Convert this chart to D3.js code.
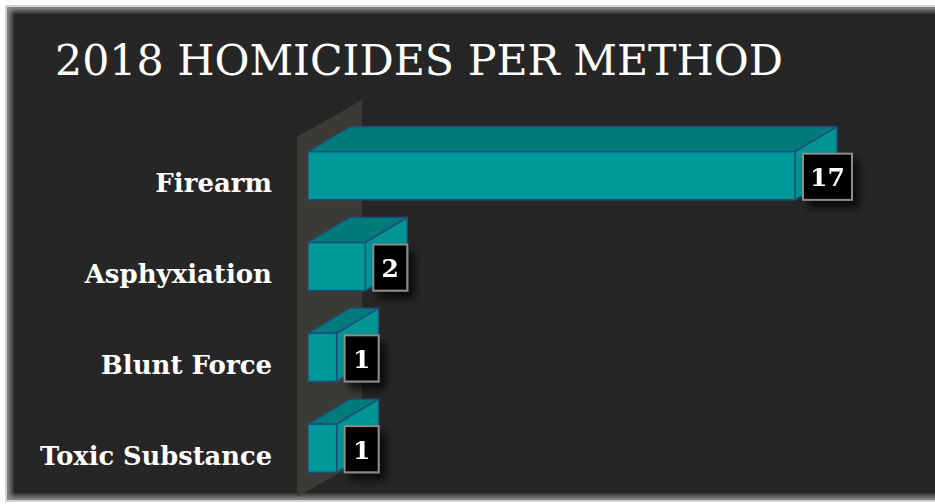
<!DOCTYPE html>
<html>
<head>
<meta charset="utf-8">
<script src="https://cdn.jsdelivr.net/npm/d3@7"></script>
<style>
  html, body { margin: 0; padding: 0; background: #ffffff; }
  svg { display: block; }
</style>
</head>
<body>
<svg width="935" height="504"></svg>
<script>
const categories = ["Firearm", "Asphyxiation", "Blunt Force", "Toxic Substance"];
const homicides = [17, 2, 1, 1];
const title = "2018 HOMICIDES PER METHOD";

const depth = {dx: 42, dy: 25};
const svg = d3.select("svg");

// frame and dark panel
const defs = svg.append("defs");
const shade = defs.append("filter").attr("id", "inner").attr("x", "-5%").attr("y", "-5%").attr("width", "110%").attr("height", "110%");
shade.append("feGaussianBlur").attr("stdDeviation", 2.5);
const drop = defs.append("filter").attr("id", "drop").attr("x", "-50%").attr("y", "-50%").attr("width", "220%").attr("height", "220%");
drop.append("feGaussianBlur").attr("in", "SourceAlpha").attr("stdDeviation", 4).attr("result", "b");
drop.append("feOffset").attr("in", "b").attr("dx", 6).attr("dy", 7).attr("result", "o");
drop.append("feComponentTransfer").attr("in", "o").attr("result", "s")
  .append("feFuncA").attr("type", "linear").attr("slope", 0.75);
const merge = drop.append("feMerge");
merge.append("feMergeNode").attr("in", "s");
merge.append("feMergeNode").attr("in", "SourceGraphic");

svg.append("rect").attr("x", 5).attr("y", 5).attr("width", 940).attr("height", 497).attr("fill", "#d6d6d6");
svg.append("rect").attr("x", 7).attr("y", 7).attr("width", 940).attr("height", 493).attr("fill", "#8a8a8a");
svg.append("rect").attr("x", 11).attr("y", 11).attr("width", 940).attr("height", 485)
  .attr("fill", "#262626").attr("filter", "url(#inner)");
svg.append("rect").attr("x", 14).attr("y", 14).attr("width", 930).attr("height", 479).attr("fill", "#262626");

// title
svg.append("text")
  .attr("x", 55).attr("y", 75)
  .attr("fill", "#ffffff")
  .style("font-family", "'DejaVu Serif', Georgia, serif")
  .style("font-size", "43px")
  .attr("textLength", 728).attr("lengthAdjust", "spacingAndGlyphs")
  .text(title);

// scales
const x = d3.scaleLinear().domain([0, 17]).range([308, 795]);
const y = d3.scaleBand().domain(categories).range([109, 515]).padding(0.47);

// back wall
const x0 = x(0) - 11;
const wallTop = 137, wallBottom = 497, wallDx = 65, wallDy = 37;
svg.append("path")
  .attr("d", `M${x0},${wallTop} L${x0 + wallDx},${wallTop - wallDy} L${x0 + wallDx},${wallBottom - wallDy} L${x0},${wallBottom} Z`)
  .attr("fill", "#3c3a35");

const data = categories.map((c, i) => ({cat: c, val: homicides[i]}));

const bars = svg.append("g").selectAll("g").data(data).join("g");

// top face
bars.append("path")
  .attr("d", d => {
    const yt = y(d.cat), xa = x(0), xb = x(d.val);
    return `M${xa},${yt} L${xa + depth.dx},${yt - depth.dy} L${xb + depth.dx},${yt - depth.dy} L${xb},${yt} Z`;
  })
  .attr("fill", "#007b7b").attr("stroke", "#1f4e79").attr("stroke-width", 1.5).attr("stroke-linejoin", "round");

// side face
bars.append("path")
  .attr("d", d => {
    const yt = y(d.cat), yb = yt + y.bandwidth(), xb = x(d.val);
    return `M${xb},${yt} L${xb + depth.dx},${yt - depth.dy} L${xb + depth.dx},${yb - depth.dy} L${xb},${yb} Z`;
  })
  .attr("fill", "#009494").attr("stroke", "#1f4e79").attr("stroke-width", 1.5).attr("stroke-linejoin", "round");

// front face
bars.append("rect")
  .attr("x", x(0))
  .attr("y", d => y(d.cat))
  .attr("width", d => x(d.val) - x(0))
  .attr("height", y.bandwidth())
  .attr("fill", "#009999").attr("stroke", "#1f4e79").attr("stroke-width", 1.5);

// value labels
const labels = bars.append("g").attr("filter", "url(#drop)");
labels.append("rect")
  .attr("x", d => x(d.val) + 8)
  .attr("y", d => y(d.cat) + 2)
  .attr("width", d => String(d.val).length > 1 ? 49 : 34)
  .attr("height", y.bandwidth() - 2)
  .attr("fill", "#000000").attr("stroke", "#8c8c8c").attr("stroke-width", 2);
labels.append("text")
  .attr("x", d => x(d.val) + 8 + (String(d.val).length > 1 ? 24.5 : 17))
  .attr("y", d => y(d.cat) + y.bandwidth() / 2 + 2)
  .attr("text-anchor", "middle").attr("dominant-baseline", "central")
  .attr("fill", "#ffffff")
  .style("font-family", "'DejaVu Serif', Georgia, serif")
  .style("font-weight", "bold")
  .style("font-size", "25px")
  .text(d => d.val);

// category axis
const yAxis = d3.axisLeft(y).tickSize(0).tickPadding(36);
const ax = svg.append("g").attr("transform", `translate(${x(0)},8)`).call(yAxis);
ax.select(".domain").remove();
ax.selectAll("text")
  .attr("fill", "#ffffff")
  .style("font-family", "'DejaVu Serif', Georgia, serif")
  .style("font-weight", "bold")
  .style("font-size", "26px");
ax.selectAll(".tick text").filter(d => d === "Toxic Substance")
  .attr("textLength", 232).attr("lengthAdjust", "spacingAndGlyphs");
</script>
</body>
</html>
